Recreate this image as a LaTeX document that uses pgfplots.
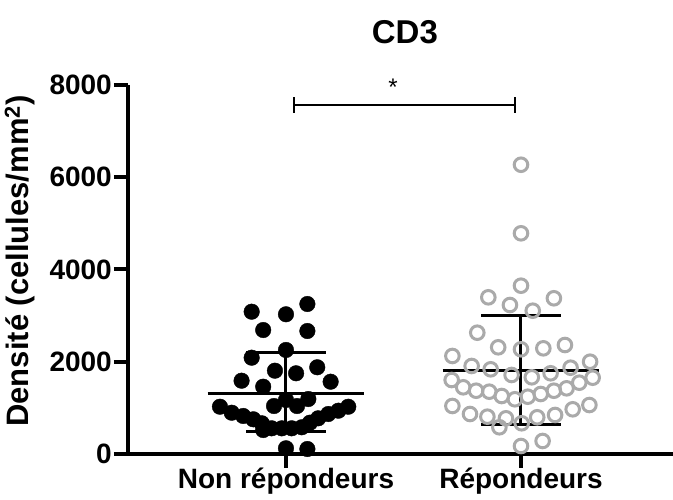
\documentclass[border=0pt]{standalone}
\usepackage{fontspec}
\setmainfont{Liberation Sans}
\usepackage{pgfplots}
\pgfplotsset{compat=1.18}
\definecolor{repgray}{RGB}{170,170,170}

\begin{document}
\begin{tikzpicture}[x=1pt,y=1pt]
\useasboundingbox (-128,-46) rectangle (545,454);
\begin{axis}[
    at={(0,0)}, anchor=south west,
    scale only axis, width=545pt, height=369pt,
    xmin=0.3277, xmax=2.6468,
    ymin=0, ymax=8000,
    clip=false,
    axis x line=bottom, axis y line=left,
    axis line style={-, line width=4pt},
    xtick={1,2},
    xticklabels={Non répondeurs, Répondeurs},
    ytick={0,2000,4000,6000,8000},
    minor tick num=0,
    tick align=outside,
    major tick length=14pt,
    tick style={line width=4pt, black},
    scaled y ticks=false,
    /pgf/number format/assume math mode=true,
    /pgf/number format/1000 sep={},
    yticklabel style={font=\fontsize{28}{30}\selectfont\bfseries, inner sep=2pt},
    xticklabel style={font=\fontsize{28}{30}\selectfont\bfseries, inner sep=0pt},
]
% moyenne +/- ecart-type
\addplot[black, line width=3pt] coordinates {(0.667,1316) (1.333,1316)};
\addplot[black, line width=3pt] coordinates {(0.83,2196) (1.17,2196)};
\addplot[black, line width=3pt] coordinates {(0.83,483) (1.17,483)};
\addplot[black, line width=3pt] coordinates {(1,483) (1,2196)};
\addplot[black, line width=3pt] coordinates {(1.667,1821) (2.333,1821)};
\addplot[black, line width=3pt] coordinates {(1.83,2998) (2.17,2998)};
\addplot[black, line width=3pt] coordinates {(1.83,629) (2.17,629)};
\addplot[black, line width=3pt] coordinates {(2,629) (2,2998)};

% Non repondeurs
\addplot[only marks, mark=*, mark size=7.8pt, black] coordinates {
(0.854,3085) (1.000,3029) (1.091,3252) (0.903,2688) (1.091,2667)
(1.000,2255) (0.854,2088) (0.953,1806) (1.043,1750) (1.133,1880)
(0.811,1589) (0.903,1459) (1.190,1567) (1.000,1171) (1.095,1192)
(0.949,1040) (1.047,1040)
(0.719,1025) (0.769,895) (0.818,824) (0.861,752) (0.897,666) (0.903,520)
(1.265,1025) (1.223,939) (1.180,867) (1.137,774) (1.102,679)
(0.939,557) (0.982,557) (1.024,557) (1.067,579)
(1.000,124) (1.091,108)
};

% Repondeurs
\addplot[only marks, mark=o, mark size=6.8pt, repgray, mark options={line width=3pt}] coordinates {
(2.000,6271) (2.000,4785) (2.000,3649) (1.861,3397) (2.140,3376)
(1.953,3230) (2.050,3107) (1.814,2630) (1.903,2313) (2.000,2270)
(2.095,2291) (2.187,2363) (1.708,2125) (1.790,1908) (1.871,1836)
(1.960,1713) (2.046,1663) (2.126,1750) (2.211,1871) (2.294,2001)
(1.705,1604) (1.754,1446) (1.809,1372) (1.865,1351) (1.918,1257)
(1.974,1186) (2.029,1242) (2.084,1301) (2.140,1372) (2.194,1424)
(2.248,1546) (2.305,1654)
(1.708,1041) (1.783,867) (1.857,809) (1.908,579) (1.936,774)
(2.003,666) (2.069,796) (2.145,846) (2.220,969) (2.291,1062)
(2.092,282) (2.000,173)
};

% significativite
\addplot[black, line width=2pt] coordinates {(1.034,7566) (1.974,7566)};
\addplot[black, line width=2pt] coordinates {(1.034,7393) (1.034,7739)};
\addplot[black, line width=2pt] coordinates {(1.974,7393) (1.974,7739)};
\node[font=\fontsize{24}{26}\selectfont] at (axis cs:1.455,7960) {*};

\node[font=\fontsize{33}{36}\selectfont\bfseries] at (axis cs:1.506,9150) {CD3};
\node[rotate=90, font=\fontsize{31}{33}\selectfont\bfseries] at (axis cs:-0.132,4184)
    {Densité (cellules/mm\textsuperscript{2})};
\end{axis}
\end{tikzpicture}
\end{document}
